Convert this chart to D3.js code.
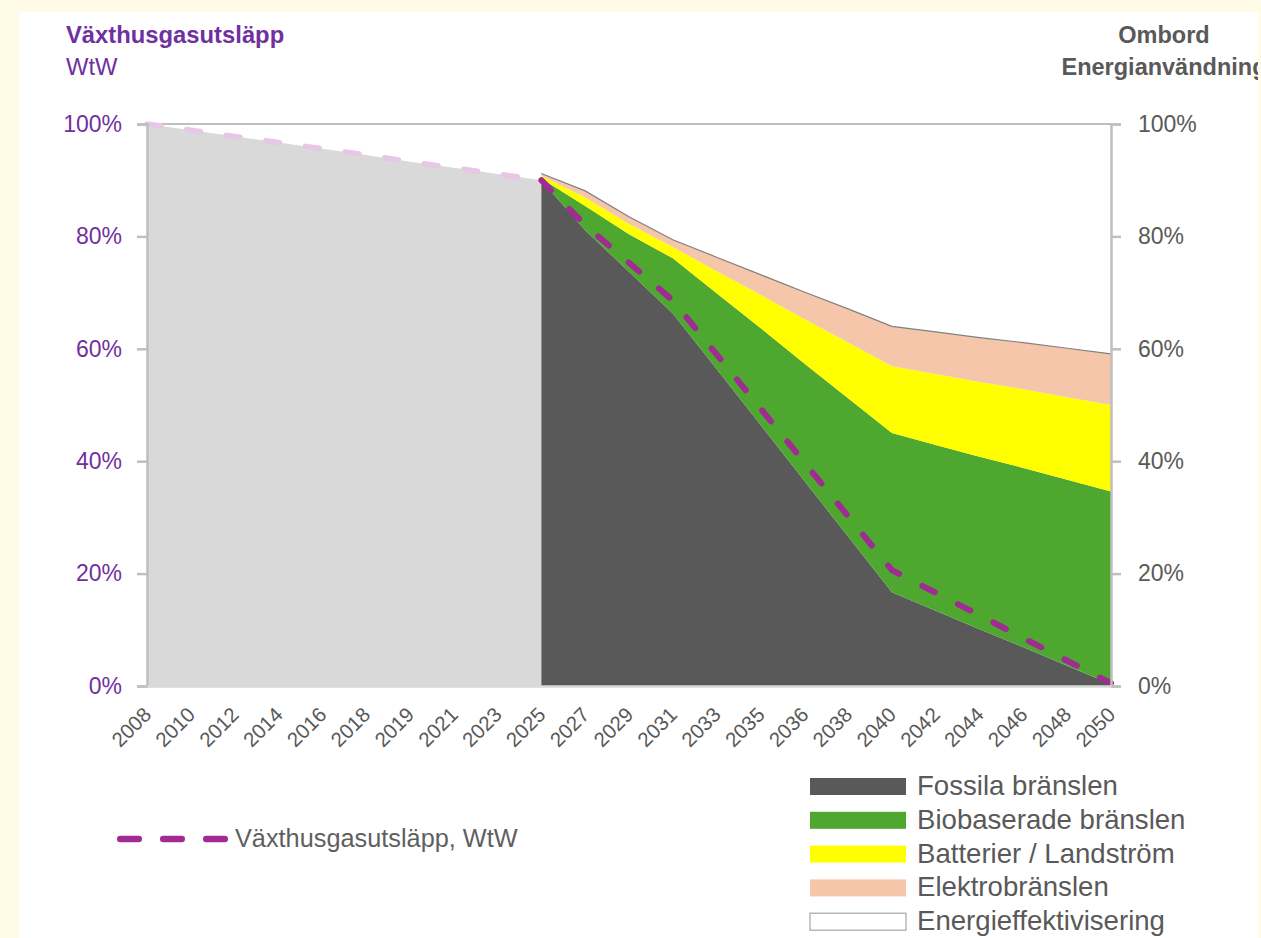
<!DOCTYPE html>
<html>
<head>
<meta charset="utf-8">
<script src="https://cdn.jsdelivr.net/npm/d3@7"></script>
<style>
    body { margin: 0; background: #fffbe6; }
    svg { display: block; font-family: "Liberation Sans", Arial, sans-serif; }
</style>
</head>
<body>
<div id="my_dataviz"></div>
<script>
// category labels along the x axis
const years = ["2008", "2010", "2012", "2014", "2016", "2018", "2019", "2021", "2023", "2025",
    "2027", "2029", "2031", "2033", "2035", "2036", "2038", "2040", "2042", "2044", "2046", "2048", "2050"];

// historical period (light grey area + faded dashed line)
const histYears = years.slice(0, 10);
const histValues = [100, 98.9, 97.8, 96.7, 95.6, 94.5, 93.3, 92.2, 91.1, 90.0];

// projection 2025-2050, % of on-board energy use (stacked)
const progYears = years.slice(9);
const fossil = [90, 81.1, 73.7, 66.3, 56.4, 46.5, 36.5, 26.6, 16.7, 13.4, 10.1, 6.9, 3.6, 0.3];
const bio = [0.3, 4.3, 6.7, 9.8, 13.5, 17.2, 20.9, 24.6, 28.3, 29.5, 30.7, 31.9, 33.1, 34.3];
const battery = [0.5, 1.5, 1.8, 2.0, 3.9, 5.9, 7.9, 9.9, 11.9, 12.6, 13.3, 14.0, 14.7, 15.4];
const elektro = [0.4, 1.2, 1.3, 1.3, 2.5, 3.6, 4.8, 6.0, 7.1, 7.5, 7.9, 8.3, 8.7, 9.1];
const effekt = [8.8, 11.9, 16.5, 20.6, 23.7, 26.8, 29.9, 32.9, 36.0, 37.0, 38.0, 38.9, 39.9, 40.9];

// greenhouse gas emissions WtW, projection
const emission = [90, 82, 75.3, 68.6, 59.0, 49.4, 39.8, 30.2, 20.6, 16.6, 12.6, 8.5, 4.5, 0.5];

const keys = ["fossil", "bio", "battery", "elektro", "effekt"];
const legendNames = ["Fossila bränslen", "Biobaserade bränslen", "Batterier / Landström", "Elektrobränslen", "Energieffektivisering"];
const yTicks = [0, 20, 40, 60, 80, 100];

const colors = {
    fossil: "#595959",
    bio: "#4ea72e",
    battery: "#ffff00",
    elektro: "#f5c6aa",
    effekt: "#ffffff"
};
const purple = "#7030a0";
const textGrey = "#595959";

const margin = {
        top: 124,
        right: 150,
        bottom: 252,
        left: 147
    },
    width = 1111 - margin.left,
    height = 686 - margin.top;

const root = d3.select("#my_dataviz")
    .append("svg")
    .attr("width", 1261)
    .attr("height", 938);

root.append("defs").append("clipPath")
    .attr("id", "panel")
    .append("rect")
    .attr("x", 19).attr("y", 12)
    .attr("width", 1239).attr("height", 940);

const page = root.append("g").attr("clip-path", "url(#panel)");
page.append("rect")
    .attr("x", 19).attr("y", 12)
    .attr("width", 1239).attr("height", 940)
    .attr("fill", "#fff");

// titles
page.append("text").attr("x", 66).attr("y", 43)
    .attr("fill", purple).attr("font-weight", "bold").attr("font-size", 23.8)
    .text("Växthusgasutsläpp");
page.append("text").attr("x", 66).attr("y", 75)
    .attr("fill", purple).attr("font-size", 23.8)
    .text("WtW");
page.append("text").attr("x", 1164).attr("y", 43)
    .attr("text-anchor", "middle")
    .attr("fill", textGrey).attr("font-weight", "bold").attr("font-size", 23.5)
    .text("Ombord");
page.append("text").attr("x", 1164).attr("y", 75)
    .attr("text-anchor", "middle")
    .attr("fill", textGrey).attr("font-weight", "bold").attr("font-size", 23.5)
    .text("Energianvändning");

const svg = page.append("g")
    .attr("transform", `translate(${margin.left}, ${margin.top})`);

const x = d3.scalePoint()
    .domain(years)
    .range([0, width]);

const y = d3.scaleLinear()
    .domain([0, 100])
    .range([height, 0]);

// historical grey area
const histData = histYears.map((yr, i) => ({year: yr, value: histValues[i]}));
svg.append("path")
    .datum(histData)
    .attr("fill", "#d9d9d9")
    .attr("d", d3.area()
        .x(d => x(d.year))
        .y0(y(0))
        .y1(d => y(d.value)));

// stacked projection
const table = progYears.map((yr, i) => ({
    year: yr,
    fossil: fossil[i],
    bio: bio[i],
    battery: battery[i],
    elektro: elektro[i],
    effekt: effekt[i]
}));
const stackedData = d3.stack().keys(keys)(table);

svg.append("g")
    .selectAll("path")
    .data(stackedData)
    .join("path")
    .attr("fill", d => colors[d.key])
    .attr("d", d3.area()
        .x(d => x(d.data.year))
        .y0(d => y(d[0]))
        .y1(d => y(d[1])));

// outline between elektro and energieffektivisering
svg.append("path")
    .datum(stackedData[3])
    .attr("fill", "none")
    .attr("stroke", "#808080")
    .attr("stroke-width", 1.2)
    .attr("d", d3.line()
        .x(d => x(d.data.year))
        .y(d => y(d[1])));

// top line at 100 %
svg.append("line")
    .attr("x1", 0).attr("x2", width)
    .attr("y1", y(100)).attr("y2", y(100))
    .attr("stroke", "#808080")
    .attr("stroke-width", 1.2);

// emission lines
const emLine = d3.line()
    .x(d => x(d.year))
    .y(d => y(d.value));
svg.append("path")
    .datum(histData)
    .attr("fill", "none")
    .attr("stroke", "#e7c7e6")
    .attr("stroke-width", 5.5)
    .attr("stroke-linecap", "round")
    .attr("stroke-dasharray", "14,26")
    .attr("d", emLine);
svg.append("path")
    .datum(progYears.map((yr, i) => ({year: yr, value: emission[i]})))
    .attr("fill", "none")
    .attr("stroke", "#a02b93")
    .attr("stroke-width", 6)
    .attr("stroke-linecap", "round")
    .attr("stroke-dasharray", "14,26")
    .attr("d", emLine);

// axes
const leftAxis = svg.append("g")
    .call(d3.axisLeft(y).tickValues(yTicks).tickFormat(d => d + "%").tickSize(10).tickPadding(15));
const rightAxis = svg.append("g")
    .attr("transform", `translate(${width}, 0)`)
    .call(d3.axisRight(y).tickValues(yTicks).tickFormat(d => d + "%").tickSize(10).tickPadding(17));
[leftAxis, rightAxis].forEach(a => {
    a.select(".domain").attr("stroke", "#bfbfbf").attr("stroke-width", 2.5);
    a.selectAll(".tick line").attr("stroke", "#bfbfbf").attr("stroke-width", 2.5);
    a.selectAll("text").attr("font-size", 23).attr("font-family", "Liberation Sans, Arial, sans-serif");
});
leftAxis.selectAll("text").attr("fill", purple);
rightAxis.selectAll("text").attr("fill", textGrey);

const bottomAxis = svg.append("g")
    .attr("transform", `translate(0, ${height})`)
    .call(d3.axisBottom(x).tickSize(0).tickSizeOuter(0));
bottomAxis.select(".domain").attr("stroke", "#d9d9d9").attr("stroke-width", 2.5);
bottomAxis.selectAll("text")
    .attr("font-size", 20.5)
    .attr("font-family", "Liberation Sans, Arial, sans-serif")
    .attr("fill", textGrey)
    .attr("text-anchor", "end")
    .attr("y", 0)
    .attr("dy", 0)
    .attr("transform", "translate(5, 30) rotate(-45)");

// legend for stacked areas
const legend = page.append("g")
    .attr("transform", "translate(810, 778)");
const item = legend.selectAll("g")
    .data(keys)
    .join("g")
    .attr("transform", (d, i) => `translate(0, ${i * 33.8})`);
item.append("rect")
    .attr("width", 96)
    .attr("height", 17)
    .attr("fill", d => colors[d])
    .attr("stroke", d => d === "effekt" ? "#a6a6a6" : "none")
    .attr("stroke-width", 1.2);
item.append("text")
    .attr("x", 107)
    .attr("y", 17)
    .attr("font-size", 27.6)
    .attr("fill", textGrey)
    .text((d, i) => legendNames[i]);

// legend for emission line
page.append("line")
    .attr("x1", 120.25).attr("x2", 224.75)
    .attr("y1", 839).attr("y2", 839)
    .attr("stroke", "#a02b93")
    .attr("stroke-width", 6.5)
    .attr("stroke-linecap", "round")
    .attr("stroke-dasharray", "18.5,24.5");
page.append("text")
    .attr("x", 235).attr("y", 847)
    .attr("font-size", 25.3)
    .attr("fill", "#5f5f5f")
    .text("Växthusgasutsläpp, WtW");
</script>
</body>
</html>
